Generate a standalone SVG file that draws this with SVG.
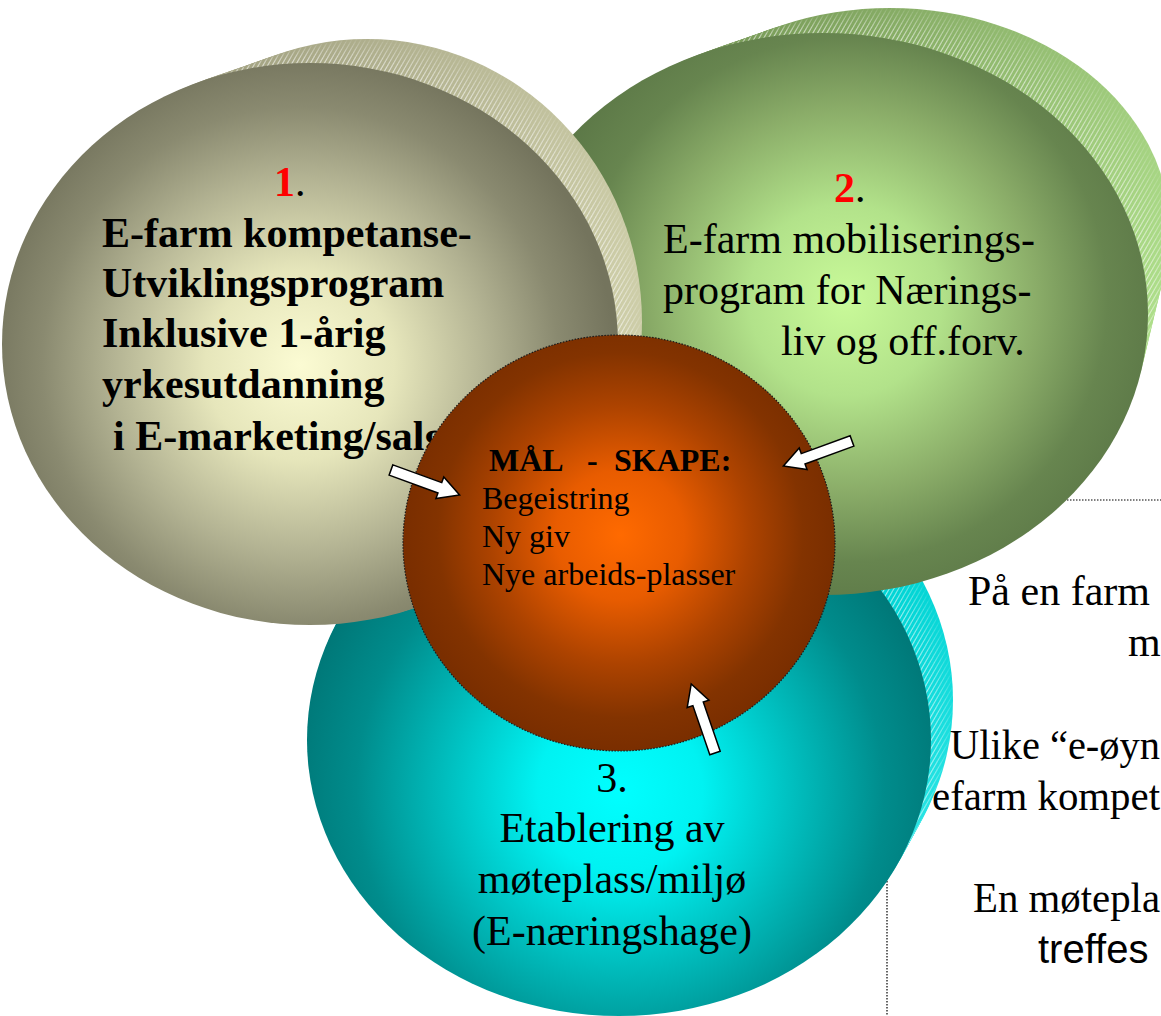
<svg xmlns="http://www.w3.org/2000/svg" width="1161" height="1016" viewBox="0 0 1161 1016">
<style>
.serif{font-family:"Liberation Serif","Times New Roman",serif;fill:#000}
.b42{font-size:42px;font-weight:bold}
.r42{font-size:42px}
.c32{font-size:32px}
.sans{font-family:"Liberation Sans",Arial,sans-serif;fill:#000}
.dot{stroke:#000;stroke-width:1.2;stroke-dasharray:1.5 1.5;fill:none}
.arrow{fill:#fff;stroke:#000;stroke-width:1.5;stroke-linejoin:miter}
</style>
<defs>
<pattern id="hatch" width="4" height="4" patternUnits="userSpaceOnUse" patternTransform="rotate(30)">
<line x1="0" y1="0" x2="0" y2="4" stroke="#fff" stroke-opacity="0.22" stroke-width="0.8"/>
</pattern>
<radialGradient id="gOlive" gradientUnits="userSpaceOnUse" cx="300" cy="365" r="315">
<stop offset="0" stop-color="#fbfbd3"/><stop offset="0.3" stop-color="#e6e6bb"/><stop offset="0.6" stop-color="#b2b292"/><stop offset="0.82" stop-color="#8a8a70"/><stop offset="1" stop-color="#74745d"/>
</radialGradient>
<linearGradient id="gOliveBack" gradientUnits="userSpaceOnUse" x1="200" y1="60" x2="650" y2="200">
<stop offset="0" stop-color="#a0a080"/><stop offset="1" stop-color="#cdcda8"/>
</linearGradient>
<radialGradient id="gGreen" gradientUnits="userSpaceOnUse" cx="845" cy="300" r="320">
<stop offset="0" stop-color="#c9fa99"/><stop offset="0.3" stop-color="#b2e28a"/><stop offset="0.6" stop-color="#8aac68"/><stop offset="0.82" stop-color="#67854f"/><stop offset="1" stop-color="#5c7847"/>
</radialGradient>
<linearGradient id="gGreenBack" gradientUnits="userSpaceOnUse" x1="720" y1="40" x2="1161" y2="300">
<stop offset="0" stop-color="#789a58"/><stop offset="1" stop-color="#aede8a"/>
</linearGradient>
<radialGradient id="gTeal" gradientUnits="userSpaceOnUse" cx="620" cy="790" r="330">
<stop offset="0" stop-color="#00ffff"/><stop offset="0.25" stop-color="#00f2f2"/><stop offset="0.55" stop-color="#00baba"/><stop offset="0.8" stop-color="#008c8c"/><stop offset="1" stop-color="#007777"/>
</radialGradient>
<linearGradient id="gTealBack" gradientUnits="userSpaceOnUse" x1="880" y1="580" x2="960" y2="850">
<stop offset="0" stop-color="#00d4d4"/><stop offset="1" stop-color="#2ee6e6"/>
</linearGradient>
<radialGradient id="gOrange" gradientUnits="userSpaceOnUse" cx="620" cy="535" r="215">
<stop offset="0" stop-color="#ff6a00"/><stop offset="0.3" stop-color="#e85c00"/><stop offset="0.6" stop-color="#ad4300"/><stop offset="0.85" stop-color="#833300"/><stop offset="1" stop-color="#7a2e00"/>
</radialGradient>
<g id="ext1">
<ellipse cx="315.7" cy="341.8" rx="304.7" ry="281.2"/>
<ellipse cx="321.4" cy="339.6" rx="301.4" ry="281.4"/>
<ellipse cx="327.1" cy="337.4" rx="298.1" ry="281.6"/>
<ellipse cx="332.8" cy="335.2" rx="294.8" ry="281.8"/>
<ellipse cx="338.5" cy="333" rx="291.5" ry="282"/>
<ellipse cx="344.2" cy="330.8" rx="288.2" ry="282.2"/>
<ellipse cx="349.9" cy="328.6" rx="284.9" ry="282.4"/>
<ellipse cx="355.6" cy="326.4" rx="281.6" ry="282.6"/>
<ellipse cx="361.3" cy="324.2" rx="278.3" ry="282.8"/>
<ellipse cx="367" cy="322" rx="275" ry="283"/>
</g>
<g id="ext2">
<ellipse cx="829.7" cy="305.6" rx="320.5" ry="275.1"/>
<ellipse cx="836.4" cy="297.2" rx="316" ry="269.2"/>
<ellipse cx="843.1" cy="288.8" rx="311.5" ry="263.3"/>
<ellipse cx="849.8" cy="280.4" rx="307" ry="257.4"/>
<ellipse cx="856.5" cy="272" rx="302.5" ry="251.5"/>
<ellipse cx="863.2" cy="263.6" rx="298" ry="245.6"/>
<ellipse cx="869.9" cy="255.2" rx="293.5" ry="239.7"/>
<ellipse cx="876.6" cy="246.8" rx="289" ry="233.8"/>
<ellipse cx="883.3" cy="238.4" rx="284.5" ry="227.9"/>
<ellipse cx="890" cy="230" rx="280" ry="222"/>
</g>
<g id="ext3">
<ellipse cx="621.2" cy="736" rx="312" ry="276"/>
<ellipse cx="623.4" cy="732" rx="312" ry="276"/>
<ellipse cx="625.6" cy="728" rx="312" ry="276"/>
<ellipse cx="627.8" cy="724" rx="312" ry="276"/>
<ellipse cx="630" cy="720" rx="312" ry="276"/>
<ellipse cx="632.2" cy="716" rx="312" ry="276"/>
<ellipse cx="634.4" cy="712" rx="312" ry="276"/>
<ellipse cx="636.6" cy="708" rx="312" ry="276"/>
<ellipse cx="638.8" cy="704" rx="312" ry="276"/>
<ellipse cx="641" cy="700" rx="312" ry="276"/>
</g>
<path id="arrow" d="M0,-5.5 H52 V-11.5 L73,0 L52,11.5 V5.5 H0 Z"/>
</defs>

<g id="textbox-frame">
<line class="dot" x1="887" y1="500" x2="1161" y2="500"/>
<line class="dot" x1="887" y1="500" x2="887" y2="1016"/>
</g>

<g id="node-3">
<use href="#ext3" fill="url(#gTealBack)"/>
<use href="#ext3" fill="url(#hatch)"/>
<ellipse cx="619" cy="740" rx="312" ry="276" fill="url(#gTeal)"/>
<g class="serif r42" text-anchor="middle">
<text x="612" y="792">3.</text>
<text x="612" y="842">Etablering av</text>
<text x="612" y="893">møteplass/miljø</text>
<text x="612" y="945">(E-næringshage)</text>
</g>
</g>

<g id="node-2">
<use href="#ext2" fill="url(#gGreenBack)"/>
<use href="#ext2" fill="url(#hatch)"/>
<ellipse cx="823" cy="314" rx="325" ry="281" fill="url(#gGreen)"/>
<text class="serif" x="834" y="202"><tspan font-size="42" font-weight="bold" fill="#ff0000">2</tspan><tspan font-size="42">.</tspan></text>
<g class="serif r42">
<text x="663" y="253">E-farm mobiliserings-</text>
<text x="663" y="304">program for Nærings-</text>
<text x="781" y="355">liv og off.forv.</text>
</g>
</g>

<g id="node-1">
<use href="#ext1" fill="url(#gOliveBack)"/>
<use href="#ext1" fill="url(#hatch)"/>
<ellipse cx="310" cy="344" rx="308" ry="281" fill="url(#gOlive)"/>
<text class="serif" x="274" y="196"><tspan font-size="42" font-weight="bold" fill="#ff0000">1</tspan><tspan font-size="42">.</tspan></text>
<g class="serif b42">
<text x="102" y="247">E-farm kompetanse-</text>
<text x="102" y="297">Utviklingsprogram</text>
<text x="102" y="347">Inklusive 1-årig</text>
<text x="102" y="398">yrkesutdanning</text>
<text x="113" y="450">i E-marketing/salg</text>
</g>
</g>

<g id="node-center">
<ellipse cx="619" cy="543" rx="216" ry="208" fill="url(#gOrange)" stroke="#1a1a1a" stroke-width="1.2" stroke-dasharray="1.5 1.5"/>
<text class="serif c32" font-weight="bold" y="471"><tspan x="489">MÅL</tspan><tspan x="587">-</tspan><tspan x="614">SKAPE:</tspan></text>
<g class="serif c32">
<text x="482" y="509">Begeistring</text>
<text x="482" y="547">Ny giv</text>
<text x="482" y="585">Nye arbeids-plasser</text>
</g>
</g>

<g id="connectors">
<use href="#arrow" class="arrow" transform="translate(391 470) rotate(20)"/>
<use href="#arrow" class="arrow" transform="translate(852 441) rotate(160)"/>
<use href="#arrow" class="arrow" transform="translate(715 753) rotate(-109)"/>
</g>

<g id="textbox">
<g class="serif r42">
<text x="968" y="605">På en farm</text>
<text x="1128" y="656">m</text>
<text x="950" y="759" textLength="210" lengthAdjust="spacingAndGlyphs">Ulike “e-øyn</text>
<text x="932" y="810" textLength="228" lengthAdjust="spacingAndGlyphs">efarm kompet</text>
<text x="973" y="912" textLength="187" lengthAdjust="spacingAndGlyphs">En møtepla</text>
</g>
<text class="sans" font-size="40" x="1038" y="963">treffes</text>
</g>
</svg>
